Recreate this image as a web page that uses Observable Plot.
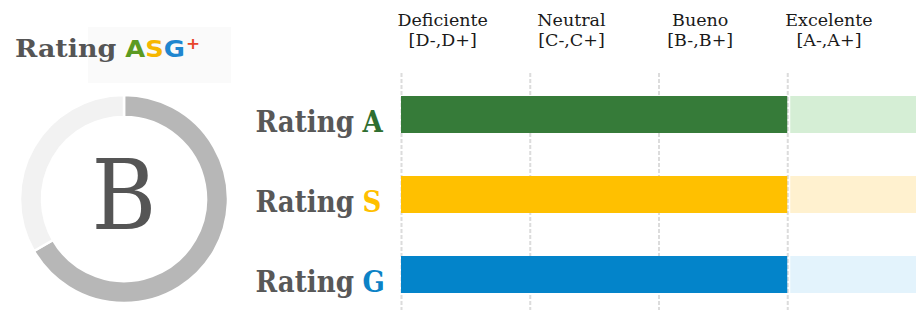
<!DOCTYPE html>
<html>
<head>
<meta charset="utf-8">
<script src="https://cdn.jsdelivr.net/npm/d3@7"></script>
<script src="https://cdn.jsdelivr.net/npm/@observablehq/plot@0.6"></script>
<style>
  html, body { margin: 0; padding: 0; background: #fff; }
  #wrap { position: relative; width: 916px; height: 310px; overflow: hidden; }
  #wrap > * { position: absolute; left: 0; top: 0; }
  #logo { left: 15px; top: 27px; width: 215px; height: 56px; }
  #logo .bg { position: absolute; left: 73px; top: 0; width: 143px; height: 56px; background: #fafafa; }
  #logo .txt { position: absolute; left: 0; top: 7px; white-space: nowrap; transform: scaleX(1.12); transform-origin: 0 0; }
  #logo .r { font-family: "DejaVu Serif", serif; font-weight: bold; font-size: 24px; color: #555; }
  #logo .asg { font-family: "DejaVu Sans", sans-serif; font-weight: bold; font-size: 23px; margin-left: 8px; }
  #logo sup { font-family: "DejaVu Sans", sans-serif; font-weight: bold; font-size: 15px; color: #e8452c; position: relative; top: -2px; margin-left: 1px; }
</style>
</head>
<body>
<div id="wrap">
  <div id="logo"><div class="bg"></div><div class="txt"><span class="r">Rating</span><span class="asg"><span style="color:#5b9a22">A</span><span style="color:#f6b700">S</span><span style="color:#1f86cf">G</span></span><sup>+</sup></div></div>
</div>
<script>
// ---- data ----
const ratings = ["A", "S", "G"];
const ratingLabels = ["Rating", "Rating", "Rating"];
const barColors = ["#367b39", "#ffc000", "#0384ca"];
const lightColors = ["#d5eed5", "#fff1cf", "#e3f3fc"];
const letterColors = ["#2f6e30", "#ffc000", "#0b82c6"];
const scores = [3, 3, 3];          // dark bar ends at the end of "Bueno"
const maxScore = 4;
const levels = ["Deficiente", "Neutral", "Bueno", "Excelente"];
const levelRanges = ["[D-,D+]", "[C-,C+]", "[B-,B+]", "[A-,A+]"];
const overallGrade = "B";
const donutParts = ["score", "rest"];
const donutValues = [2, 1];
const donutColors = ["#b7b7b7", "#f2f2f2"];

const rows = ratings.map((r, i) => ({
  rating: r, label: ratingLabels[i], score: scores[i], max: maxScore,
  dark: barColors[i], light: lightColors[i], letter: letterColors[i]
}));
const header = levels.map((l, i) => ({ idx: i, text: l + "\n" + levelRanges[i] }));
const grid = levels.map((l, i) => ({ idx: i }));

const serif = "'DejaVu Serif Condensed', 'DejaVu Serif', serif";

const chart = Plot.plot({
  width: 916,
  height: 310,
  marginLeft: 401,
  marginRight: 0,
  marginTop: 95,
  marginBottom: 17,
  x: { domain: [0, maxScore], axis: null },
  y: { domain: ratings, axis: null, paddingInner: 0.54, paddingOuter: 0 },
  style: { fontFamily: serif, background: "transparent", overflow: "visible" },
  marks: [
    Plot.ruleX(grid, { x: "idx", stroke: "#dcdcdc", strokeWidth: 2, strokeDasharray: "4,2", insetTop: -22, insetBottom: -17 }),
    Plot.barX(rows, { x1: 0, x2: "score", y: "rating", fill: "dark" }),
    Plot.barX(rows, { x1: "score", x2: "max", y: "rating", fill: "light", insetLeft: 3 }),
    Plot.text(header, { x: (d) => d.idx + 0.32, frameAnchor: "top", lineAnchor: "middle", dy: -66, text: "text", fontSize: 17.5, lineHeight: 1.17, fill: "#1a1a1a", fontFamily: "'DejaVu Serif', serif" }),
    Plot.text(rows, { y: "rating", frameAnchor: "left", textAnchor: "start", dx: -146, dy: 8, text: "label", fontSize: 29, fontWeight: "bold", fill: "#585858" }),
    Plot.text(rows, { y: "rating", frameAnchor: "left", textAnchor: "start", dx: -39, dy: 8, text: "rating", fontSize: 29, fontWeight: "bold", fill: "letter" })
  ]
});
document.getElementById("wrap").appendChild(chart);

// ---- donut ----
const cx = 124, cy = 199, rOuter = 104, rInner = 82;
const svg = d3.create("svg").attr("width", 250).attr("height", 310).style("left", "0px").style("top", "0px");
const pie = d3.pie().sort(null).value((d) => d)(donutValues);
const arc = d3.arc().innerRadius(rInner).outerRadius(rOuter);
const g = svg.append("g").attr("transform", `translate(${cx},${cy})`);
g.selectAll("path").data(pie).join("path")
  .attr("d", arc)
  .attr("fill", (d, i) => donutColors[i])
  .attr("stroke", "#fff").attr("stroke-width", 2.5);
g.append("text").attr("text-anchor", "middle").attr("y", 30)
  .attr("font-family", serif).attr("font-size", 98).attr("fill", "#555")
  .text(overallGrade);
document.getElementById("wrap").appendChild(svg.node());
</script>
</body>
</html>
